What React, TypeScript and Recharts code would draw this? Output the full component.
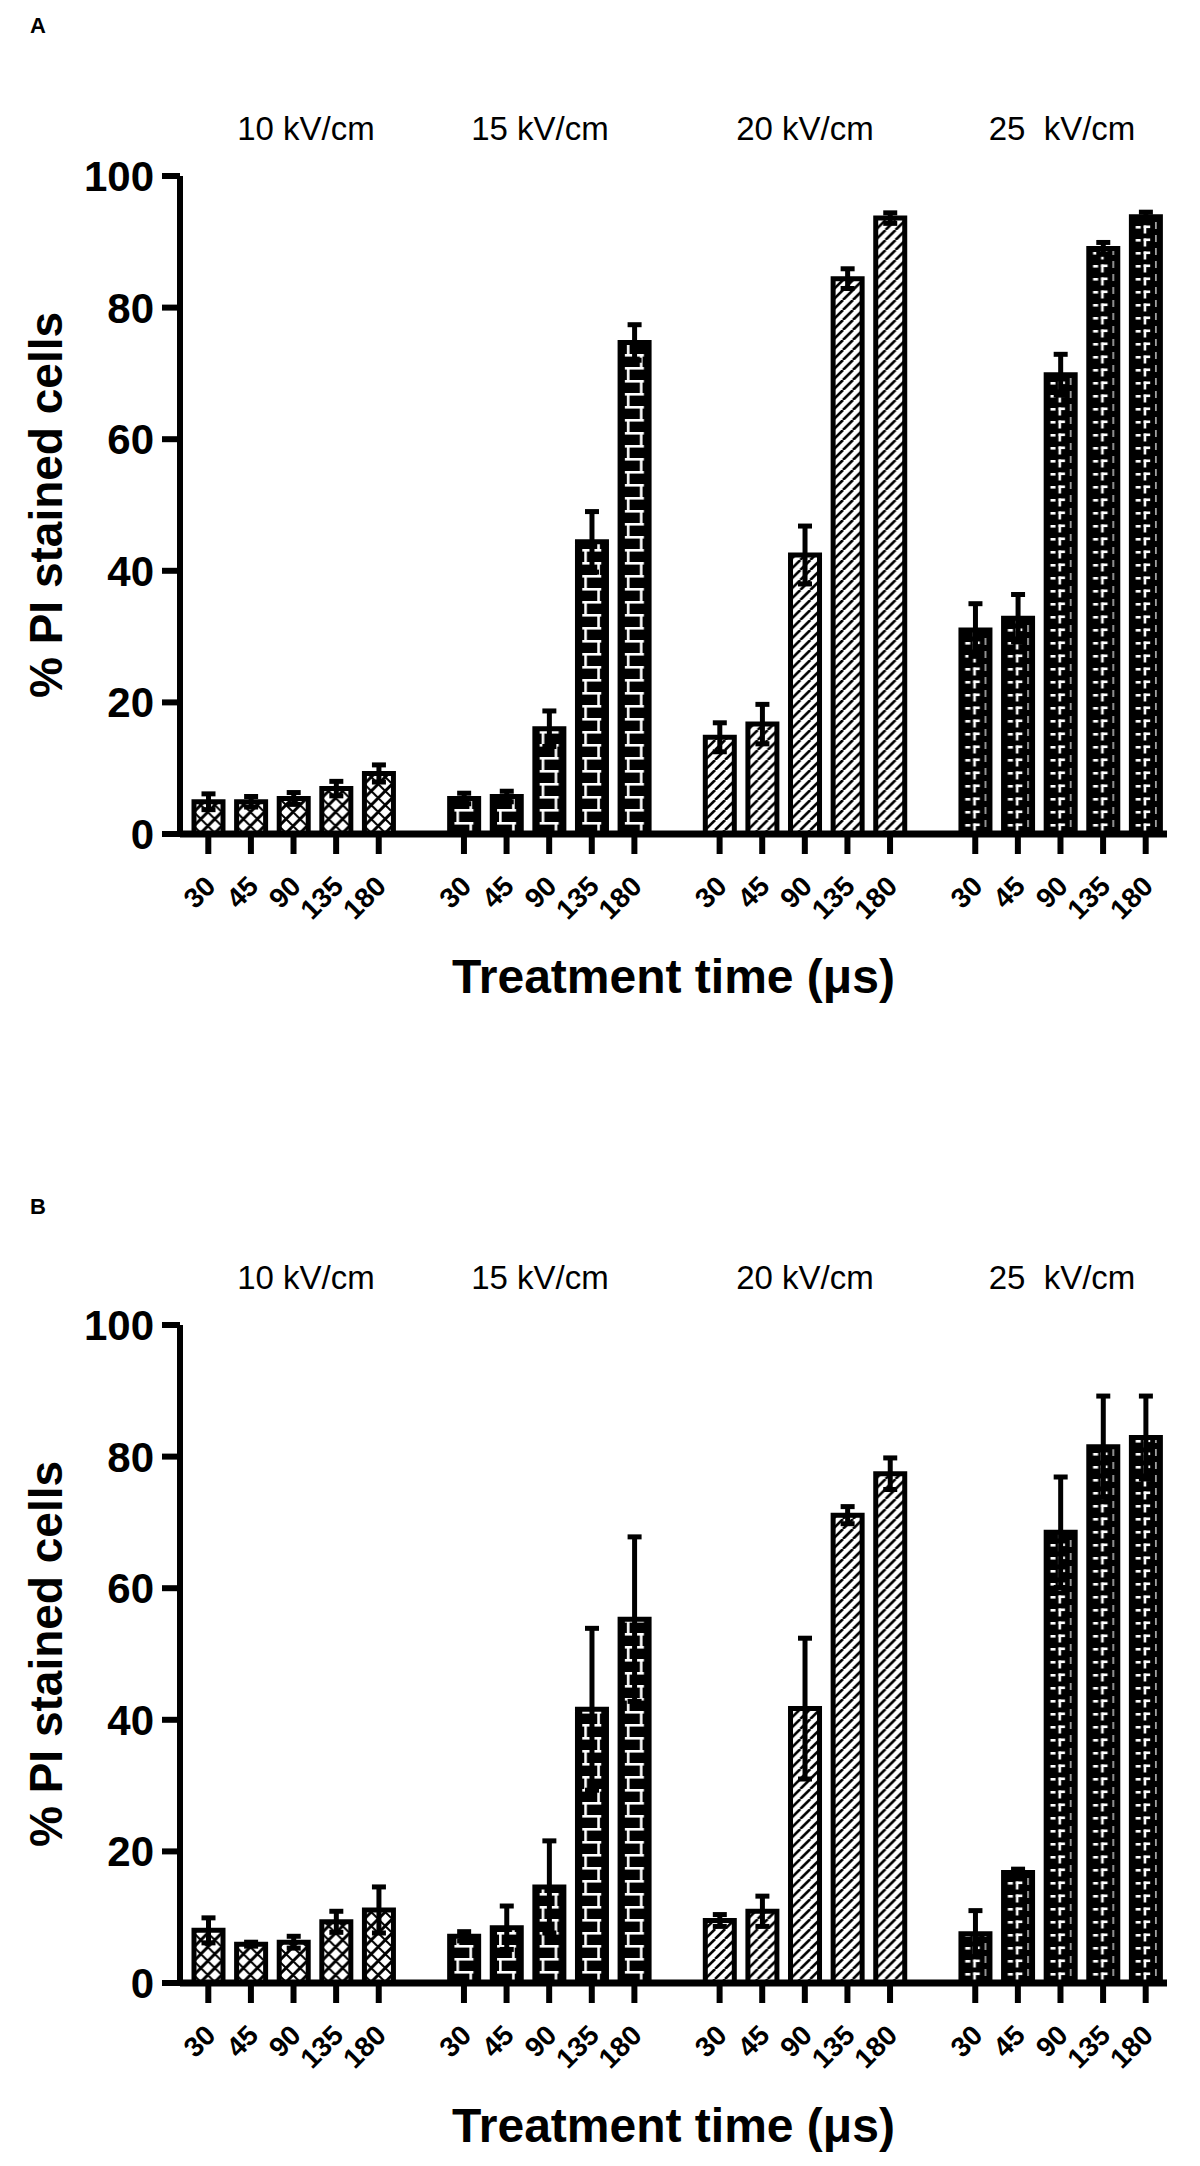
import React from 'react';
import { BarChart, Bar, XAxis, YAxis, ErrorBar, Cell } from 'recharts';

// ---------- data ----------
const groupLabels = ['10 kV/cm', '15 kV/cm', '20 kV/cm', '25  kV/cm'];
const timeLabels = ['30', '45', '90', '135', '180'];
const yTicks = [0, 20, 40, 60, 80, 100];
const panelLetters = ['A', 'B'];
const yTitle = '% PI stained cells';
const xTitle = 'Treatment time (μs)';

// Panel A
const meanA10 = [4.9, 4.9, 5.4, 6.9, 9.2];
const errA10 = [1.2, 0.8, 0.9, 1.1, 1.3];
const meanA15 = [5.4, 5.7, 16.0, 44.4, 74.7];
const errA15 = [0.8, 0.8, 2.7, 4.6, 2.7];
const meanA20 = [14.7, 16.7, 42.4, 84.4, 93.6];
const errA20 = [2.2, 3.0, 4.4, 1.5, 0.8];
const meanA25 = [31.0, 32.8, 69.8, 89.0, 93.8];
const errA25 = [4.0, 3.6, 3.1, 0.9, 0.7];

// Panel B
const meanB10 = [8.0, 5.9, 6.2, 9.3, 11.1];
const errB10 = [1.9, 0.3, 0.9, 1.6, 3.5];
const meanB15 = [7.1, 8.4, 14.6, 41.6, 55.3];
const errB15 = [0.7, 3.3, 7.0, 12.3, 12.5];
const meanB20 = [9.5, 10.9, 41.7, 71.1, 77.4];
const errB20 = [0.9, 2.3, 10.7, 1.3, 2.4];
const meanB25 = [7.5, 16.8, 68.5, 81.5, 82.9];
const errB25 = [3.5, 0.5, 8.4, 7.7, 6.3];

// ---------- layout / style ----------
const W = 1200;
const PLOT_L = 180;
const PLOT_R = 1167;
const PAD_L = 7;
const N_SLOTS = 23;
const SLOT = (PLOT_R - PLOT_L - PAD_L) / N_SLOTS;
const BAR = 29;
const PLOT_TOP = 176;
const PLOT_BOTTOM = 834;
const X_AXIS_H = 60;
const PANEL_TOP = [0, 1149];
const PANEL_H = [1149, 1017];
const LETTER_Y = [33, 65];
const GROUP_LABEL_X = [306, 540, 805, 1062];
const FONT = '"Liberation Sans", Arial, Helvetica, sans-serif';
const patternIds = ['pCross', 'pBrick', 'pDiag', 'pDash'];
const TILE_X = PLOT_L + PAD_L + (SLOT - BAR) / 2;

type Row = { key: string; label: string; value: number | null; err: number | null; group: number };

function buildRows(means: number[][], errs: number[][]): Row[] {
  const rows: Row[] = [];
  means.forEach((g, gi) => {
    if (gi > 0) rows.push({ key: `gap${gi}`, label: '', value: null, err: null, group: -1 });
    g.forEach((v, ti) =>
      rows.push({ key: `g${gi}t${ti}`, label: timeLabels[ti], value: v, err: errs[gi][ti], group: gi })
    );
  });
  return rows;
}

const rowsA = buildRows([meanA10, meanA15, meanA20, meanA25], [errA10, errA15, errA20, errA25]);
const rowsB = buildRows([meanB10, meanB15, meanB20, meanB25], [errB10, errB15, errB20, errB25]);
const tickKeys = rowsA.filter((r) => r.group >= 0).map((r) => r.key);
const labelByKey: Record<string, string> = {};
rowsA.forEach((r) => (labelByKey[r.key] = r.label));

const XTick = (props: any) => {
  const { x, y, payload } = props;
  const ax = x + 9;
  const ay = y + 34;
  return (
    <text
      x={ax}
      y={ay}
      transform={`rotate(-45 ${ax} ${ay})`}
      textAnchor="end"
      fontSize={28}
      fontWeight={700}
      fill="#000"
      fontFamily={FONT}
    >
      {labelByKey[payload.value]}
    </text>
  );
};

function Patterns() {
  const crossLines = [];
  for (let k = -1; k < 4; k++) {
    crossLines.push(<line key={`a${k}`} x1={14 * k} y1={14} x2={14 * k + 14} y2={0} stroke="#000" strokeWidth={3} />);
    crossLines.push(<line key={`b${k}`} x1={14 * k} y1={0} x2={14 * k + 14} y2={14} stroke="#000" strokeWidth={2} />);
  }
  const diagLines = [];
  for (let k = -1; k < 6; k++) {
    diagLines.push(<line key={k} x1={10 * k} y1={10} x2={10 * k + 10} y2={0} stroke="#000" strokeWidth={2.6} />);
  }
  return (
    <svg width={0} height={0} style={{ position: 'absolute' }}>
      <defs>
        <pattern id="pCross" patternUnits="userSpaceOnUse" x={TILE_X} y={0} width={SLOT} height={14}>
          <rect x={0} y={0} width={SLOT} height={14} fill="#fff" />
          {crossLines}
        </pattern>
        <pattern id="pBrick" patternUnits="userSpaceOnUse" x={TILE_X} y={0} width={SLOT} height={26}>
          <rect x={0} y={0} width={SLOT} height={26} fill="#000" />
          <rect x={5} y={3} width={19} height={2.6} fill="#fff" />
          <rect x={5} y={16} width={19} height={2.6} fill="#fff" />
          <rect x={7} y={3} width={2.6} height={13} fill="#fff" />
          <rect x={20} y={16} width={2.6} height={10} fill="#fff" />
          <rect x={20} y={0} width={2.6} height={3} fill="#fff" />
        </pattern>
        <pattern id="pDiag" patternUnits="userSpaceOnUse" x={TILE_X} y={0} width={SLOT} height={10}>
          <rect x={0} y={0} width={SLOT} height={10} fill="#fff" />
          {diagLines}
        </pattern>
        <pattern id="pDash" patternUnits="userSpaceOnUse" x={TILE_X} y={0} width={SLOT} height={13}>
          <rect x={0} y={0} width={SLOT} height={13} fill="#000" />
          <rect x={4.5} y={5} width={5} height={2.6} fill="#fff" />
          <rect x={12.5} y={4.5} width={2.6} height={8} fill="#fff" />
          <rect x={12.5} y={4.5} width={6.5} height={2.6} fill="#fff" />
          <rect x={24} y={1} width={1.4} height={7} fill="#ccc" />
        </pattern>
      </defs>
    </svg>
  );
}

function Panel({ rows, height }: { rows: Row[]; height: number }) {
  return (
    <BarChart
      width={W}
      height={height}
      data={rows}
      barSize={BAR}
      margin={{ top: PLOT_TOP, right: W - PLOT_R, bottom: height - PLOT_BOTTOM - X_AXIS_H, left: 80 }}
    >
      <XAxis
        dataKey="key"
        type="category"
        ticks={tickKeys}
        interval={0}
        height={X_AXIS_H}
        tickSize={20}
        tickMargin={0}
        padding={{ left: PAD_L, right: 0 }}
        axisLine={{ stroke: '#000', strokeWidth: 7 }}
        tickLine={{ stroke: '#000', strokeWidth: 6 }}
        tick={(p: any) => <XTick {...p} />}
      />
      <YAxis
        type="number"
        domain={[0, 100]}
        ticks={yTicks}
        interval={0}
        width={100}
        tickSize={18}
        tickMargin={8}
        axisLine={{ stroke: '#000', strokeWidth: 6 }}
        tickLine={{ stroke: '#000', strokeWidth: 6 }}
        tick={{ fontSize: 42, fontWeight: 700, fill: '#000', fontFamily: FONT }}
      />
      <Bar dataKey="value" isAnimationActive={false} stroke="#000" strokeWidth={5}>
        {rows.map((r) => (
          <Cell key={r.key} fill={r.group >= 0 ? `url(#${patternIds[r.group]})` : 'none'} />
        ))}
        <ErrorBar dataKey="err" width={7} strokeWidth={5} stroke="#000" direction="y" isAnimationActive={false} />
      </Bar>
    </BarChart>
  );
}

export default function App() {
  const panels = [rowsA, rowsB];
  return (
    <div style={{ position: 'absolute', left: 0, top: 0, width: W, height: 2166, background: '#fff', fontFamily: FONT }}>
      <Patterns />
      {panels.map((rows, i) => (
        <div key={i} style={{ position: 'absolute', left: 0, top: PANEL_TOP[i] }}>
          <Panel rows={rows} height={PANEL_H[i]} />
        </div>
      ))}
      <svg width={W} height={2166} style={{ position: 'absolute', left: 0, top: 0, pointerEvents: 'none' }}>
        {panels.map((_, i) => (
          <g key={i} transform={`translate(0 ${PANEL_TOP[i]})`} fontFamily={FONT} fill="#000">
            <text x={30} y={LETTER_Y[i]} fontSize={22} fontWeight={700}>
              {panelLetters[i]}
            </text>
            {groupLabels.map((g, gi) => (
              <text key={gi} x={GROUP_LABEL_X[gi]} y={140} fontSize={33} textAnchor="middle" style={{ whiteSpace: 'pre' }}>
                {g}
              </text>
            ))}
            <text x={62} y={505} transform="rotate(-90 62 505)" fontSize={46} fontWeight={700} textAnchor="middle">
              {yTitle}
            </text>
            <text x={(PLOT_L + PLOT_R) / 2} y={993} fontSize={48} fontWeight={700} textAnchor="middle">
              {xTitle}
            </text>
          </g>
        ))}
      </svg>
    </div>
  );
}
